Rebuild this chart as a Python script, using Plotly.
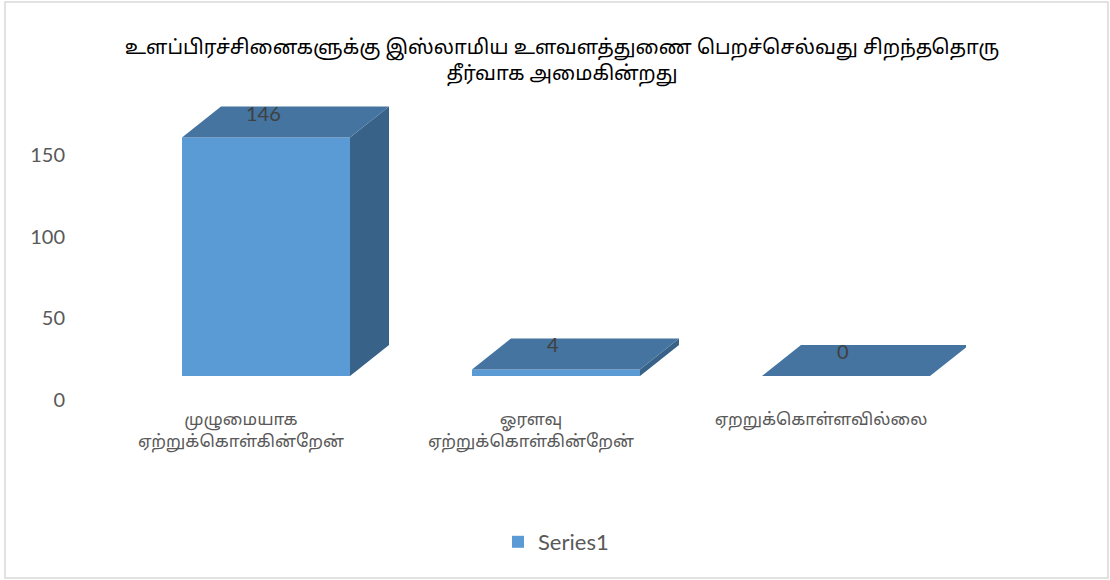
import plotly.graph_objects as go

# ---- data ----
categories = ["முழுமையாக<br>ஏற்றுக்கொள்கின்றேன்",
              "ஓரளவு<br>ஏற்றுக்கொள்கின்றேன்",
              "ஏறறுக்கொள்ளவில்லை"]
values = [146, 4, 0]
series_name = "Series1"
title_text = ("உளப்பிரச்சினைகளுக்கு இஸ்லாமிய உளவளத்துணை பெறச்செல்வது சிறந்ததொரு<br>"
              "தீர்வாக அமைகின்றது")
y_ticks = [0, 50, 100, 150]

# ---- geometry / style ----
W, H = 1110, 580
ML, MR, MT, MB = 96, 144, 100, 180
plot_w = W - ML - MR
plot_h = H - MT - MB
y_max = 183.7
px_per_unit = plot_h / y_max
px_per_cat = plot_w / 3.0

floor_px = 24            # front face sits this many px above axis zero
front_dx = 25 / px_per_cat
half_w = 84 / px_per_cat
depth_dx = 39 / px_per_cat
depth_dy = 31 / px_per_unit
floor_units = floor_px / px_per_unit

c_front = "#5B9BD5"
c_top = "#44749F"
c_side = "#386288"
tamil_font = "Noto Sans Tamil, Latha, Noto Sans, sans-serif"
latin_font = "Lato, Open Sans, sans-serif"

fig = go.Figure()
xs = list(range(len(categories)))

# side and top faces as polygons computed from values
for i, v in enumerate(values):
    xl = i + front_dx - half_w
    xr = i + front_dx + half_w
    if v > 0:
        fig.add_trace(go.Scatter(
            x=[xr, xr + depth_dx, xr + depth_dx, xr, xr],
            y=[0, depth_dy, v + depth_dy, v, 0],
            mode="lines", fill="toself", fillcolor=c_side,
            line=dict(width=0, color=c_side), showlegend=False,
            hoverinfo="skip", xaxis="x", yaxis="y2"))
    fig.add_trace(go.Scatter(
        x=[xl, xr, xr + depth_dx, xl + depth_dx, xl],
        y=[v, v, v + depth_dy, v + depth_dy, v],
        mode="lines", fill="toself", fillcolor=c_top,
        line=dict(width=0, color=c_top), showlegend=False,
        hoverinfo="skip", xaxis="x", yaxis="y2"))

# front faces
fig.add_trace(go.Bar(
    x=xs, y=values, name=series_name, marker=dict(color=c_front, line=dict(width=0)),
    width=2 * half_w, offset=front_dx - half_w, xaxis="x", yaxis="y2",
    hoverinfo="x+y"))

fig.add_trace(go.Scatter(x=[None], y=[None], showlegend=False, xaxis="x", yaxis="y"))

for i, v in enumerate(values):
    fig.add_annotation(x=i + front_dx - 3 / px_per_cat, y=v, xref="x", yref="y2", text=str(v),
                       showarrow=False, yshift=25,
                       font=dict(family=latin_font, size=20, color="#404040"))

def px_to_paper_x(px):
    return (px - ML) / plot_w

def px_to_paper_y(py):
    return (H - MB - py) / plot_h

fig.add_shape(type="rect", xref="paper", yref="paper",
              x0=px_to_paper_x(5), x1=px_to_paper_x(1108),
              y0=px_to_paper_y(578), y1=px_to_paper_y(2),
              line=dict(color="#D9D9D9", width=1.5), fillcolor="rgba(0,0,0,0)",
              layer="below")

fig.update_layout(
    width=W, height=H,
    margin=dict(l=ML, r=MR, t=MT, b=MB),
    paper_bgcolor="white", plot_bgcolor="white",
    title=dict(text=title_text, x=px_to_paper_x(562), xref="paper", xanchor="center",
               y=1 - 54 / H, yanchor="middle",
               font=dict(family=tamil_font, size=20, color="#000000")),
    xaxis=dict(range=[-0.5, 2.5], tickmode="array", tickvals=xs, ticktext=categories,
               showgrid=False, zeroline=False, showline=False, ticks="",
               ticklabelstandoff=7,
               tickfont=dict(family=tamil_font, size=17, color="#595959")),
    yaxis=dict(range=[0, y_max], tickmode="array", tickvals=y_ticks,
               showgrid=False, zeroline=False, showline=False, ticks="",
               ticklabelstandoff=30,
               tickfont=dict(family=latin_font, size=20, color="#595959")),
    yaxis2=dict(range=[-floor_units, y_max - floor_units], overlaying="y",
                visible=False, showgrid=False, zeroline=False),
    barmode="overlay",
    showlegend=True,
    legend=dict(orientation="h", x=px_to_paper_x(556), y=px_to_paper_y(542),
                xanchor="center", yanchor="middle",
                font=dict(family=latin_font, size=22, color="#595959")),
)

fig.write_html("out.html", config={"displayModeBar": False},
               post_script="document.body.style.margin='0px';")
